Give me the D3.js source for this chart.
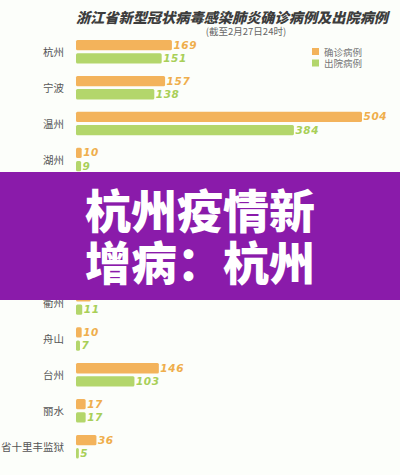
<!DOCTYPE html>
<html>
<head>
<meta charset="utf-8">
<script src="https://cdn.jsdelivr.net/npm/d3@7"></script>
<style>
  html, body { margin: 0; padding: 0; background: #fcfefa; }
  svg { display: block; }
</style>
</head>
<body>
<div id="chart"></div>
<script>
const categories = ["杭州","宁波","温州","湖州","嘉兴","绍兴","金华","衢州","舟山","台州","丽水","省十里丰监狱"];
const confirmed  = [169, 157, 504, 10, 45, 42, 55, 26, 10, 146, 17, 36];
const discharged = [151, 138, 384, 9, 30, 28, 35, 11, 7, 103, 17, 5];
const seriesNames = ["确诊病例", "出院病例"];
const titleText = "浙江省新型冠状病毒感染肺炎确诊病例及出院病例";
const subtitleText = "(截至2月27日24时)";
const bannerLines = ["杭州疫情新", "增病：杭州"];

const W = 400, H = 475;
const colors = ["#f3b35b", "#b3d66b"];
const textColors = ["#efae4c", "#a8cf57"];

const svg = d3.select("#chart").append("svg").attr("width", W).attr("height", H);
svg.append("rect").attr("width", W).attr("height", H).attr("fill", "#fcfefa");

const x = d3.scaleLinear().domain([0, d3.max(confirmed)]).range([76, 362]);
const y = d3.scaleBand().domain(categories).range([40, 40 + 35.9 * categories.length]).paddingInner(0).paddingOuter(0);
const inner = d3.scaleBand().domain([0, 1]).range([0, 23.5]).paddingInner(0.22);

// title
svg.append("text")
  .attr("x", 232).attr("y", 23)
  .attr("text-anchor", "middle")
  .attr("font-family", "'Noto Sans CJK SC', sans-serif")
  .attr("font-weight", 900)
  .attr("font-style", "italic")
  .attr("font-size", 14.2)
  .attr("fill", "#3d3d3d")
  .text(titleText);
svg.append("text")
  .attr("x", 246).attr("y", 35)
  .attr("text-anchor", "middle")
  .attr("font-family", "'Noto Sans CJK SC', sans-serif")
  .attr("font-size", 9.5)
  .attr("fill", "#666")
  .text(subtitleText);

// legend
const leg = svg.append("g");
seriesNames.forEach((n, i) => {
  leg.append("rect").attr("x", 312).attr("y", 48 + i * 11.5).attr("width", 7).attr("height", 7).attr("fill", colors[i]);
  leg.append("text").attr("x", 324).attr("y", 55.5 + i * 11.5)
    .attr("font-family", "'Noto Sans CJK SC', sans-serif")
    .attr("font-size", 9.5).attr("fill", "#777").text(n);
});

// groups
const groups = svg.selectAll("g.grp").data(categories).join("g")
  .attr("class", "grp")
  .attr("transform", d => `translate(0,${y(d)})`);

groups.append("text")
  .attr("x", 64).attr("y", 13)
  .attr("text-anchor", "end")
  .attr("dominant-baseline", "middle")
  .attr("font-family", "'Noto Sans CJK SC', sans-serif")
  .attr("font-size", 10.5)
  .attr("fill", "#555")
  .text(d => d);

const series = [confirmed, discharged];
series.forEach((vals, si) => {
  groups.append("rect")
    .attr("x", x(0))
    .attr("y", inner(si))
    .attr("width", (d, i) => x(vals[i]) - x(0))
    .attr("height", inner.bandwidth())
    .attr("rx", 1.5)
    .attr("fill", colors[si]);
  groups.append("text")
    .attr("x", (d, i) => x(vals[i]) + 1.5)
    .attr("y", inner(si) + inner.bandwidth() / 2 + 0.5)
    .attr("dominant-baseline", "middle")
    .attr("font-family", "'DejaVu Sans', sans-serif")
    .attr("font-weight", "bold")
    .attr("font-style", "italic")
    .attr("font-size", 10.5)
    .attr("letter-spacing", 0.6)
    .attr("fill", textColors[si])
    .text((d, i) => vals[i]);
});

// banner overlay
svg.append("rect").attr("x", 0).attr("y", 172).attr("width", W).attr("height", 128).attr("fill", "#8a1baa");
bannerLines.forEach((t, i) => {
  svg.append("text")
    .attr("x", 200).attr("y", 228 + i * 52)
    .attr("text-anchor", "middle")
    .attr("font-family", "'Noto Sans CJK SC', sans-serif")
    .attr("font-weight", 900)
    .attr("font-size", 46)
    .attr("fill", "#ffffff")
    .text(t);
});
</script>
</body>
</html>
